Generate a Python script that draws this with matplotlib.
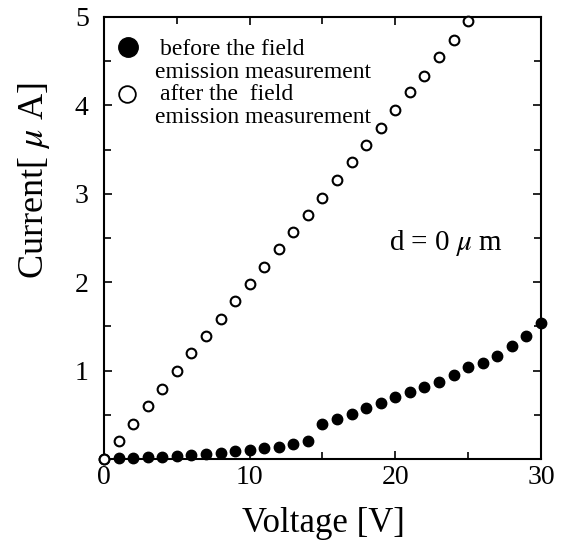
import matplotlib.pyplot as plt
from matplotlib.ticker import MultipleLocator

plt.rcParams['font.family'] = ['Liberation Serif', 'DejaVu Serif']
plt.rcParams['mathtext.fontset'] = 'stix'

# данные
voltage_before = list(range(0, 31))
current_before = [0.0, 0.015, 0.015, 0.02, 0.02, 0.04, 0.05, 0.06, 0.065, 0.09, 0.105,
                  0.13, 0.14, 0.17, 0.2, 0.4, 0.45, 0.51, 0.58, 0.64, 0.70,
                  0.76, 0.81, 0.87, 0.95, 1.04, 1.09, 1.17, 1.28, 1.39, 1.54]

voltage_after = list(range(0, 26))
current_after = [0.0, 0.2, 0.4, 0.6, 0.79, 1.0, 1.2, 1.39, 1.58, 1.79, 1.98,
                 2.17, 2.38, 2.57, 2.76, 2.95, 3.16, 3.36, 3.55, 3.74, 3.95,
                 4.15, 4.33, 4.55, 4.74, 4.95]

fig = plt.figure(figsize=(5.67, 5.44), dpi=100)
ax = fig.add_axes([0.1834, 0.156, 0.7706, 0.813])

ax.plot(voltage_before, current_before, 'o', color='black', ms=7.5, clip_on=False, zorder=3)
ax.plot(voltage_after, current_after, 'o', mfc='white', mec='black', mew=1.5, ms=7,
        clip_on=False, zorder=4)

ax.set_xlim(0, 30)
ax.set_ylim(0, 5)
ax.xaxis.set_major_locator(MultipleLocator(10))
ax.xaxis.set_minor_locator(MultipleLocator(5))
ax.yaxis.set_minor_locator(MultipleLocator(0.5))
ax.set_yticks([1, 2, 3, 4, 5])
ax.tick_params(which='both', direction='in', top=True, right=True, labelsize=20, width=1.2)
ax.tick_params(which='major', length=6)
ax.tick_params(which='minor', length=5)
ax.tick_params(axis='y', pad=11)
ax.tick_params(axis='x', pad=4)
for s in ax.spines.values():
    s.set_linewidth(1.5)

ax.set_xlabel("Voltage [V]", fontsize=25)
ax.set_ylabel("Current[ $\\mu$ A]", fontsize=26)
ax.xaxis.set_label_coords(0.503, -0.109)
ax.yaxis.set_label_coords(-0.12, 0.629)

# легенда вручную
ax.plot([1.65], [4.66], 'o', color='black', ms=14, clip_on=False)
ax.plot([1.6], [4.13], 'o', mfc='white', mec='black', mew=1.3, ms=12, clip_on=False)
ax.text(3.85, 4.57, "before the field", fontsize=17, va='baseline')
ax.text(3.51, 4.31, "emission measurement", fontsize=17, va='baseline')
ax.text(3.85, 4.06, "after the  field", fontsize=17, va='baseline')
ax.text(3.51, 3.80, "emission measurement", fontsize=17, va='baseline')

ax.text(23.5, 2.36, "d = 0 $\\mu$ m", fontsize=21, va='baseline', ha='center')

fig.savefig("out.png", dpi=100)
